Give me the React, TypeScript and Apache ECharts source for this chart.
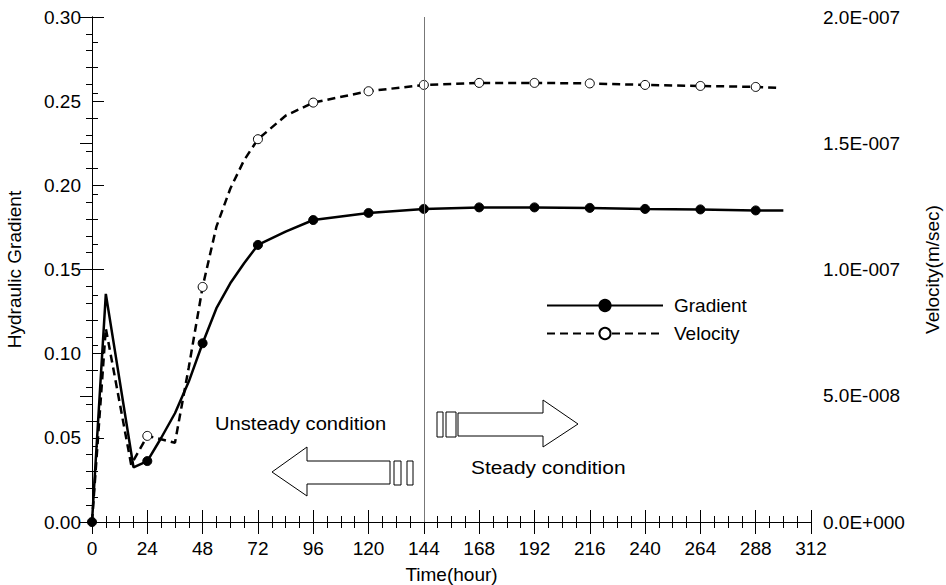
import React, { useEffect, useRef } from "react";
import * as echarts from "echarts";

// Time (hour) and gradient readings
const gradientHours = [0, 6, 18, 24, 30, 36, 42, 48, 54, 60, 66, 72, 84, 96, 120, 144, 168, 192, 216, 240, 264, 288, 300];
const gradientValues = [0, 0.1355, 0.0325, 0.0362, 0.0499, 0.0646, 0.0834, 0.1062, 0.127, 0.1418, 0.1537, 0.1646, 0.1725, 0.1794, 0.1836, 0.186, 0.1869, 0.1869, 0.1866, 0.186, 0.1857, 0.1851, 0.185];

// Time (hour) and velocity readings (m/sec)
const velocityHours = [0, 6, 17, 24, 36, 42, 48, 54, 60, 66, 72, 84, 96, 120, 144, 168, 192, 216, 240, 264, 288, 299];
const velocityValues = [0, 7.67e-8, 2.27e-8, 3.41e-8, 3.14e-8, 6.13e-8, 9.31e-8, 1.17e-7, 1.32e-7, 1.433e-7, 1.516e-7, 1.609e-7, 1.661e-7, 1.706e-7, 1.731e-7, 1.739e-7, 1.739e-7, 1.737e-7, 1.731e-7, 1.727e-7, 1.723e-7, 1.719e-7];

// hours at which markers are drawn
const gradientMarkerHours = [0, 24, 48, 72, 96, 120, 144, 168, 192, 216, 240, 264, 288];
const velocityMarkerHours = [24, 48, 72, 96, 120, 144, 168, 192, 216, 240, 264, 288];

const steadyStartHour = 144;

const FONT = "'Liberation Sans', Arial, sans-serif";
const FS = 19;

function sciLabel(v: number): string {
  if (Math.abs(v) < 1e-20) return "0.0E+000";
  const s = v.toExponential(1);
  const [m, e] = s.split("e");
  const ex = parseInt(e, 10);
  const sign = ex < 0 ? "-" : "+";
  const digits = String(Math.abs(ex)).padStart(3, "0");
  return `${m}E${sign}${digits}`;
}

export default function App() {
  const ref = useRef<HTMLDivElement>(null);
  useEffect(() => {
    if (!ref.current) return;
    const chart = echarts.init(ref.current, undefined, { renderer: "svg" });

    const gData = gradientHours.map((h, i) => ({
      value: [h, gradientValues[i]],
      symbol: gradientMarkerHours.includes(h) ? "circle" : "none",
    }));
    const vData = velocityHours.map((h, i) => ({
      value: [h, velocityValues[i]],
      symbol: velocityMarkerHours.includes(h) ? "circle" : "none",
    }));

    const tickCommon = {
      axisLine: { show: true, lineStyle: { color: "#000", width: 1 } },
      axisTick: { show: true, inside: true, length: 12, lineStyle: { color: "#000", width: 1 } },
      minorTick: { show: true, length: -6, lineStyle: { color: "#000", width: 1 } },
      splitLine: { show: false },
      minorSplitLine: { show: false },
    };

    const option: any = {
      animation: false,
      backgroundColor: "#fff",
      textStyle: { fontFamily: FONT, color: "#000" },
      grid: { left: 92, right: 135, top: 17, bottom: 63, containLabel: false, outerBoundsMode: "none" },
      legend: {
        orient: "vertical",
        left: 546,
        top: 296,
        padding: 0,
        itemWidth: 116,
        itemHeight: 14,
        itemGap: 9,
        textStyle: { fontFamily: FONT, fontSize: FS, color: "#000", padding: [0, 0, 0, 6] },
        data: ["Gradient", "Velocity"],
      },
      xAxis: [
        {
          type: "value",
          position: "bottom",
          min: 0,
          max: 312,
          interval: 24,
          name: "Time(hour)",
          nameLocation: "middle",
          nameGap: 43,
          nameTextStyle: { fontFamily: FONT, fontSize: FS, color: "#000" },
          axisLabel: { fontFamily: FONT, fontSize: FS, color: "#000", margin: 17 },
          ...tickCommon,
          minorTick: { ...tickCommon.minorTick, splitNumber: 4 },
        },
        {
          type: "value",
          position: "top",
          min: 0,
          max: 312,
          interval: 24,
          axisLabel: { show: false },
          ...tickCommon,
          minorTick: { ...tickCommon.minorTick, splitNumber: 4 },
        },
      ],
      yAxis: [
        {
          type: "value",
          position: "left",
          min: 0,
          max: 0.3,
          interval: 0.05,
          name: "Hydraulic Gradient",
          nameLocation: "middle",
          nameRotate: 90,
          nameGap: 68,
          nameTextStyle: { fontFamily: FONT, fontSize: FS, color: "#000" },
          axisLabel: {
            fontFamily: FONT,
            fontSize: FS,
            color: "#000",
            margin: 11,
            formatter: (v: number) => v.toFixed(2),
          },
          ...tickCommon,
          minorTick: { ...tickCommon.minorTick, splitNumber: 5 },
        },
        {
          type: "value",
          position: "right",
          min: 0,
          max: 2e-7,
          interval: 5e-8,
          name: "Velocity(m/sec)",
          nameLocation: "middle",
          nameRotate: 90,
          nameGap: 112,
          nameTextStyle: { fontFamily: FONT, fontSize: FS, color: "#000" },
          axisLabel: {
            fontFamily: FONT,
            fontSize: FS,
            color: "#000",
            margin: 12,
            formatter: (v: number) => sciLabel(v),
          },
          ...tickCommon,
          minorTick: { ...tickCommon.minorTick, splitNumber: 5 },
        },
      ],
      series: [
        {
          name: "Gradient",
          type: "line",
          xAxisIndex: 0,
          yAxisIndex: 0,
          data: gData,
          symbol: "circle",
          symbolSize: 9,
          showAllSymbol: true,
          lineStyle: { color: "#000", width: 2.5 },
          itemStyle: { color: "#000", borderColor: "#000", borderWidth: 1 },
          z: 3,
          markLine: {
            silent: true,
            symbol: "none",
            label: { show: false },
            lineStyle: { color: "#777", width: 1, type: "solid" },
            data: [{ xAxis: steadyStartHour }],
          },
        },
        {
          name: "Velocity",
          type: "line",
          xAxisIndex: 0,
          yAxisIndex: 1,
          data: vData,
          symbol: "circle",
          symbolSize: 9,
          showAllSymbol: true,
          lineStyle: { color: "#000", width: 2.5, type: [8, 5] },
          itemStyle: { color: "#fff", borderColor: "#000", borderWidth: 1 },
          z: 2,
        },
      ],
      graphic: [
        // Unsteady (left) arrow
        {
          type: "polygon",
          shape: {
            points: [
              [272, 472],
              [307, 447],
              [307, 461],
              [390, 461],
              [390, 484],
              [307, 484],
              [307, 496],
            ],
          },
          style: { fill: "#fff", stroke: "#000", lineWidth: 1 },
        },
        { type: "rect", shape: { x: 394, y: 461, width: 7, height: 24 }, style: { fill: "#fff", stroke: "#000", lineWidth: 1 } },
        { type: "rect", shape: { x: 407, y: 461, width: 6, height: 24 }, style: { fill: "#fff", stroke: "#000", lineWidth: 1 } },
        // Steady (right) arrow
        {
          type: "polygon",
          shape: {
            points: [
              [458, 413],
              [543, 413],
              [543, 400],
              [578, 424],
              [543, 447],
              [543, 436],
              [458, 436],
            ],
          },
          style: { fill: "#fff", stroke: "#000", lineWidth: 1 },
        },
        { type: "rect", shape: { x: 437, y: 412, width: 6, height: 25 }, style: { fill: "#fff", stroke: "#000", lineWidth: 1 } },
        { type: "rect", shape: { x: 446, y: 412, width: 10, height: 25 }, style: { fill: "#fff", stroke: "#000", lineWidth: 1 } },
        {
          type: "text",
          x: 215,
          y: 414,
          scaleX: 1.06,
          style: { text: "Unsteady condition", font: `${FS}px ${FONT}`, fill: "#000" },
        },
        {
          type: "text",
          x: 471,
          y: 458,
          scaleX: 1.1,
          style: { text: "Steady condition", font: `${FS}px ${FONT}`, fill: "#000" },
        },
      ],
    };

    chart.setOption(option);
    return () => chart.dispose();
  }, []);

  return (
    <div
      ref={ref}
      style={{ position: "fixed", left: 0, top: 0, width: 946, height: 585, background: "#fff" }}
    />
  );
}
